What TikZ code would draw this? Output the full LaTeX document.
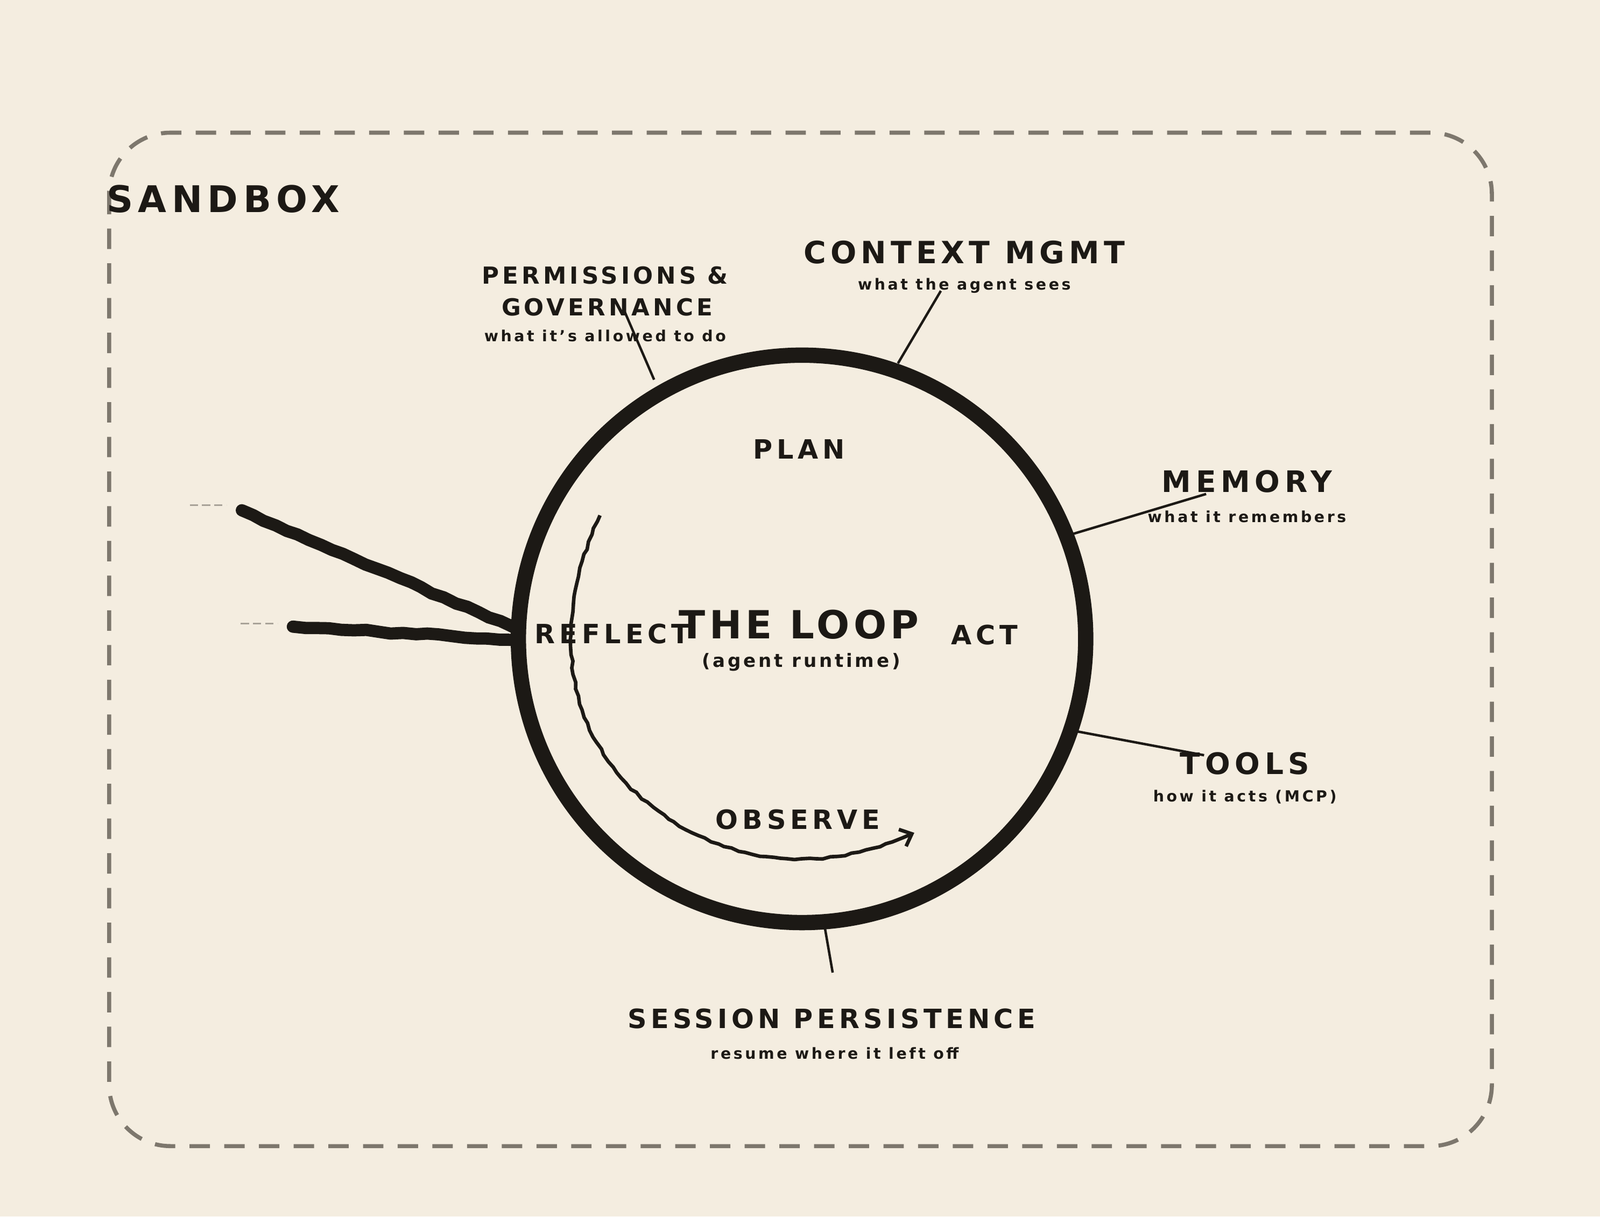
\documentclass[tikz,border=0pt]{standalone}
\usepackage{fontspec}
\setmainfont{DejaVu Sans}
\usetikzlibrary{arrows.meta,decorations.pathmorphing}
\definecolor{bg}{HTML}{F4EDE0}
\definecolor{ink}{HTML}{1C1915}
\definecolor{dashc}{HTML}{7D776D}
\definecolor{ldash}{HTML}{A8A298}
\tikzset{
 lab/.style={text=ink,font=\bfseries\addfontfeature{LetterSpace=#1}},
 lab/.default=16,
 conn/.style={draw=ink,line width=2.4pt},
 brush/.style={draw=ink,line width=12pt,line cap=round,decorate,decoration={random steps,segment length=12pt,amplitude=1.2pt}},
}
\newcommand{\fs}[1]{\fontsize{#1}{#1}\selectfont}
\begin{document}
\begin{tikzpicture}[x=1pt,y=-1pt]
\useasboundingbox (0,0) rectangle (1568,1192);
\fill[bg] (0,0) rectangle (1568,1192);
\draw[dashc,line width=4pt,dash pattern=on 20pt off 14pt,rounded corners=60pt] (107,130) rectangle (1462,1123);
\node[lab=14,anchor=west] (sb) at (101,195) {\fs{36}SANDBOX};
% loop
\node[draw=ink,line width=15pt,circle,minimum size=556pt,inner sep=0pt] (loop) at (786,626) {};
\node[lab] (plan) at (783,440) {\fs{26}PLAN};
\node[lab=10] (tl) at (783,612) {\fs{38}THE LOOP};
\node[lab=14] (ar) at (785,649) {\fs{18}(agent runtime)};
\node[lab] (refl) at (600,621) {\fs{26}REFLECT};
\node[lab] (act) at (965,622) {\fs{26}ACT};
\node[lab] (obs) at (782,803) {\fs{26}OBSERVE};
\coordinate (a0) at (588,505);
\coordinate (a1) at (896,816);
\draw[ink,line width=3.5pt,-{Straight Barb[length=10pt,width=18pt]},decorate,decoration={random steps,segment length=7pt,amplitude=1pt,post length=12pt}]
 (a0) .. controls (535,620) and (555,740) .. (660,805) .. controls (740,855) and (820,850) .. (a1);
% satellites
\node[lab=14] (perm1) at (593,270) {\fs{23}PERMISSIONS \&};
\node[lab=14] (perm2) at (595,301) {\fs{23}GOVERNANCE};
\node[lab=16] (perm3) at (593,329) {\fs{15}what it's allowed to do};
\node[lab=14] (ctx1) at (945,247) {\fs{30}CONTEXT MGMT};
\node[lab=16] (ctx2) at (945,280) {\fs{15}what the agent sees};
\node[lab=16] (mem1) at (1222,472) {\fs{29}MEMORY};
\node[lab=16] (mem2) at (1222,506) {\fs{15}what it remembers};
\node[lab=16] (tool1) at (1220,748) {\fs{29}TOOLS};
\node[lab=16] (tool2) at (1220,781) {\fs{15}how it acts (MCP)};
\node[lab=15] (ses1) at (815,998) {\fs{26}SESSION PERSISTENCE};
\node[lab=16] (ses2) at (818,1032) {\fs{15}resume where it left off};
\coordinate (p0) at (612,305); \coordinate (p1) at (641,372);
\coordinate (c0) at (922,285); \coordinate (c1) at (880,356);
\coordinate (m0) at (1182,484); \coordinate (m1) at (1052,523);
\coordinate (t0) at (1180,740); \coordinate (t1) at (1052,716);
\coordinate (s0) at (816,953); \coordinate (s1) at (808,907);
\draw[conn] (p0)--(p1); \draw[conn] (c0)--(c1); \draw[conn] (m0)--(m1);
\draw[conn] (t0)--(t1); \draw[conn] (s0)--(s1);
% left strokes
\coordinate (l1) at (237,500); \coordinate (l2) at (287,614);
\coordinate (e1) at (508,617); \coordinate (e2) at (508,627);
\draw[brush] (l1)--(e1);
\draw[brush] (l2)--(e2);
\coordinate (d1a) at (186,495); \coordinate (d1b) at (222,495);
\coordinate (d2a) at (236,611); \coordinate (d2b) at (272,611);
\draw[ldash,line width=2pt,dash pattern=on 8pt off 4pt] (d1a)--(d1b);
\draw[ldash,line width=2pt,dash pattern=on 8pt off 4pt] (d2a)--(d2b);
\end{tikzpicture}
\end{document}
